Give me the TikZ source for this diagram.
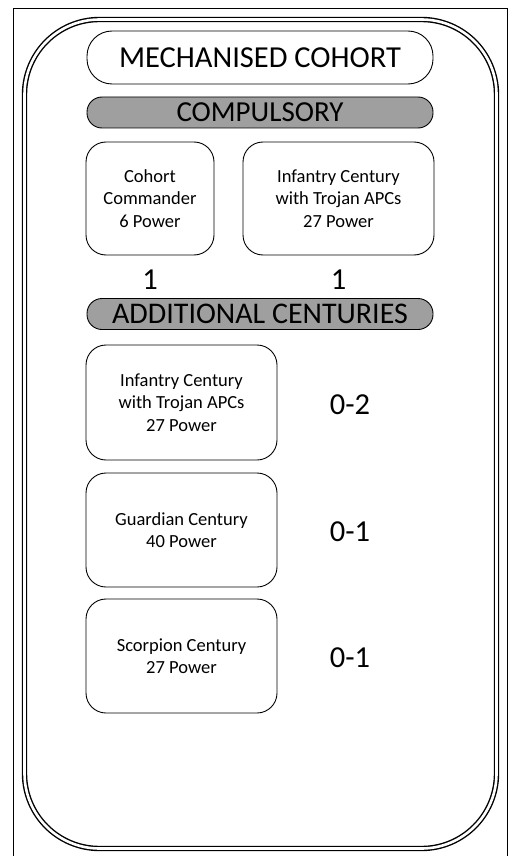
\documentclass[tikz,border=0pt]{standalone}
\usepackage{fontspec}
\setmainfont{Carlito}

\begin{document}
\begin{tikzpicture}[x=1pt,y=-1pt,
        unitbox/.style={draw, line width=0.9pt, rounded corners=20pt, align=center,
            font=\fontsize{18.5}{22.5}\selectfont},
        bar/.style={draw, line width=0.9pt, fill=gray!75, minimum width=346pt,
            minimum height=31pt, rounded corners=15pt, inner sep=0pt},
        count/.style={font=\fontsize{30.5}{30.5}\selectfont}]
        \useasboundingbox (0,0) rectangle (510,856);
        \draw[line width=0.8pt] (13,860) -- (13,8) -- (507,8) -- (507,860); % frame
        \draw[double, double distance=2.6pt, line width=1.4pt, rounded corners=75pt]
            (24.5,19.5) rectangle (496.5,848.5);
        \node[draw, line width=0.9pt, rounded corners=25pt, minimum width=346pt,
            minimum height=53pt, font=\fontsize{30.5}{30.5}\selectfont] (title) at(260,57.5){MECHANISED COHORT};
        \node[bar, font=\fontsize{29}{29}\selectfont] (compulsory) at(260,112.5){COMPULSORY};
        \node[unitbox, minimum width=128pt, minimum height=113pt] (commander) at(150,198.5){Cohort\\Commander\\6 Power};
        \node[unitbox, minimum width=191pt, minimum height=113pt] (infantry) at(338.5,198.5){Infantry Century\\with Trojan APCs\\27 Power};
        \node[count] (ncommander) at(150,280){1};
        \node[count] (ninfantry) at(338.5,280){1};
        \node[bar, font=\fontsize{30}{30}\selectfont] (additional) at(260,314){ADDITIONAL CENTURIES};
        \node[unitbox, minimum width=191pt, minimum height=115pt] (infantrytwo) at(181.5,402.5){Infantry Century\\with Trojan APCs\\27 Power};
        \node[unitbox, minimum width=191pt, minimum height=114pt] (guardian) at(181.5,530){Guardian Century\\40 Power};
        \node[unitbox, minimum width=191pt, minimum height=114pt] (scorpion) at(181.5,656){Scorpion Century\\27 Power};
        \node[count] (ninfantrytwo) at(350,405){0-2};
        \node[count] (nguardian) at(350,532){0-1};
        \node[count] (nscorpion) at(350,658){0-1};
    \end{tikzpicture}
\end{document}
